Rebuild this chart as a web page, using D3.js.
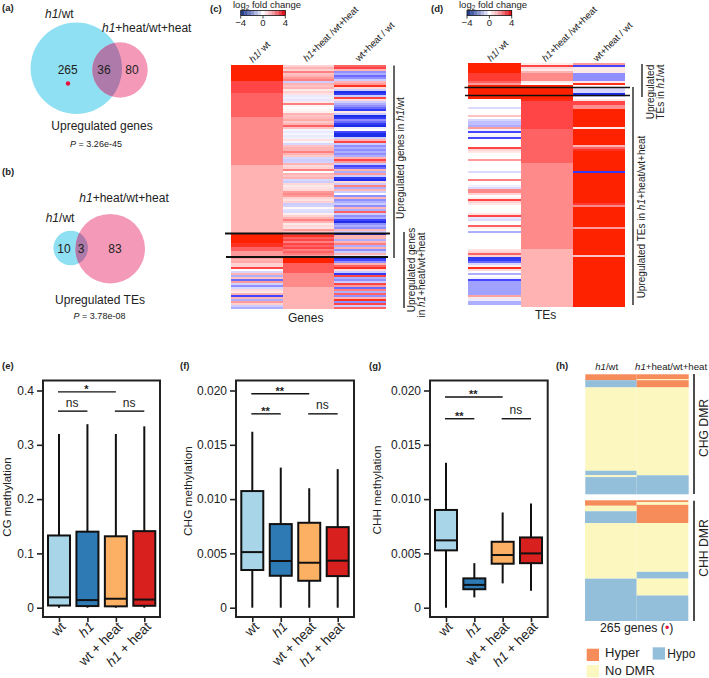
<!DOCTYPE html>
<html><head><meta charset="utf-8">
<script src="https://cdn.jsdelivr.net/npm/d3@7"></script>
<style>html,body{margin:0;padding:0;background:#fff}svg{display:block}text{font-family:"Liberation Sans",Arial,sans-serif;fill:#222}</style>
</head><body><svg id="c" width="709" height="678"><defs><filter id="soft" x="-2%" y="-2%" width="104%" height="104%"><feGaussianBlur stdDeviation="0.6"/></filter></defs></svg>
<script>
// ---------- data ----------
const groups=["wt","*h1*","wt + heat","*h1* + heat"];
const boxColors=["#a8d5e8","#2d7ab5","#fbb063","#d8201f"];
// [low,q1,median,q3,high]
const cgBoxes=[[0,.004,.019,.133,.32],[0,.003,.014,.14,.338],[0,.0025,.0165,.1315,.32],[0,.0035,.015,.141,.334]];
const chgBoxes=[[0,.00347,.00512,.01074,.0162],[0,.00294,.0043,.0077,.0129],[0,.00248,.00414,.00782,.011],[0,.00291,.00433,.00742,.01276]];
const chhBoxes=[[0,.00528,.0062,.009,.01334],[.00095,.0017,.0021,.0027,.0041],[.00224,.00405,.00485,.00607,.00877],[.00156,.0041,.005,.00647,.0096]];
const cgTicks=[0,.1,.2,.3,.4], methTicks=[0,.005,.01,.015,.02];
// [from group,to group,height,label]
const cgBrackets=[[0,2,.3975,"*"],[0,1,.362,"ns"],[2,3,.362,"ns"]];
const chgBrackets=[[0,2,.0197,"**"],[0,1,.01785,"**"],[2,3,.01785,"ns"]];
const chhBrackets=[[0,2,.0194,"**"],[0,1,.0174,"**"],[2,3,.0174,"ns"]];

// heatmap columns, one log2 fold change per row; runs are [value,count]
const genesH1Runs=[[4,8],[3,6],[2.5,12],[1.8,24],[1,34],[4,5],[3.5,2],[2.5,2],[1.5,3]];
const genesH1Tail=[1.5,1,1.2,.6,.6,3,0,-.8,1,-1.5,.8,-2.5,1.5,-.9,-2,-.8,.5,.3,1,-3,1,-1.5,1.5,.6,-1,-1.5];
const genesHeat=[.6,1,.6,2,.8,1,1.5,2,-1,1,.8,1,.3,.6,.4,-.4,-.3,-.5,.3,2,.1,0,.1,.2,1,.8,.9,1.2,.7,1,2.5,.8,-.2,-.4,-.2,-.4,-.3,.4,-.2,-.8,.8,1,1,2,1,.7,-.8,-1,-.9,1,.5,.6,2,0,1,.8,1,-.8,-1,.5,.3,.4,.5,1.5,1.8,1.5,.6,.4,.6,-1,-.9,.1,-.6,-.7,.2,.6,1,2,1,.3,.5,.4,1.5,.8,2.5,3.5,2.5,3,2,3,2.5,3,2,2.5,2,1.5];
const genesHeatRuns=[[4,3],[2.6,5],[1.8,7],[1,11]];
const genesWt=[2.5,3,1,-2,-1.5,-2.5,-2,-1,1,1.5,3.5,.5,-1,-4,-3.5,-1,3,.5,-1,-1.5,-2,-2.5,-3.5,.3,-1,-4,-3.5,-2,-2.5,-3.5,-4,-.3,0,-3,-4,-4,-1,1,3,-1,-2,-1.5,-2,-1.5,-2,-1.5,1,3,1.5,-1,-3,-2.5,1,-1.5,1.5,-1,-3.5,-4,.5,-1,2,-1.5,1,-1,0,-2,1,-2,-1.5,-1,-2,1,-1.5,2.5,-1,-2,-1.5,-3,-4,-2,-1.5,-2,1,-1,-4,1,1,-1.5,1,2,-1.5,1,-2,-1,1,-.5,-4,-3,-2,1,2.5,3.5,.5,-1,-3.5,3,-1.5,-2,-1,3,1.5,-2.5,2,-1.5,2.5,-2,1,3.5,-2,3,-1,2.5];

const tesH1Runs=[[4,5],[3.3,4],[2.5,1],[1.5,1],[4,7]];
const tesH1Tail=[0,0,0,0,-.7,0,0,0,.8,0,-.8,-1.2,-1.2,-1.5,1.5,-.3,-3,.1,-.3,-3,0,0,0,0,3,.6,.3,0,0,0,1.5,0,0,0,0,0,-.7,0,0,0,2,0,0,-.3,-.7,1.8,1.8,.6,0,.2,3,.6,.3,0,0,0,0,.4,3,-.5,-.7,0,0,2.5,.2,0,-1.5,0,0,0,0,0,0,0,0,.4,.6,2.5,.6,-3.5,-3.5,-2.5,-.8,.2,3.5,.5,0,-1.5,0,-.3,-3,-1.7,-1.7,-1.7,-1.7,-1.7,-1.7,-1.7,1.3,.3,-.4,-1.5,-1.5,0];
const tesHeatRuns=[[.3,1],[3,1],[.5,1],[.3,1],[1,1],[1.8,4],[.3,1],[0,1],[4,7],[3.7,1],[3,14],[2.5,17],[1.8,43],[1,29]];
const tesWtRuns=[[1.5,1],[-3,1],[.3,3],[-2,4],[.3,1],[3.5,1],[0,1],[-.8,3],[-4,1],[-.8,1],[0,1],[.3,1],[3,2],[1.7,2],[4,9],[.3,1],[4,8],[1,1],[2.5,1],[3.5,1],[4,10],[-3.5,1],[4,15],[3.3,1],[1.8,1],[4,10],[1.5,1],[4,13],[.8,1],[4,25]];

const genesLabels=["*h1*/ wt","*h1*+heat /wt+heat","wt+heat / wt"];
const tesLabels=["*h1*/ wt","*h1*+heat /wt+heat","wt+heat / wt"];
const legendTicks=[-4,0,4];
const legendSteps=[-4,-3.3,-2.6,-2,-1.3,-.7,0,.7,1.3,2,2.6,3.3,4];

// DMR tracks: counts of the 265 genes in each state, top to bottom
const chgH1=[["Hyper",13],["Hypo",16],["No DMR",184],["Hypo",10],["No DMR",4],["Hypo",38]];
const chgHeat=[["Hyper",11],["No DMR",2],["Hyper",16],["No DMR",194],["Hypo",42]];
const chhH1=[["Hyper",12],["No DMR",12],["Hypo",26],["No DMR",122],["Hypo",93]];
const chhHeat=[["Hyper",4],["No DMR",6],["Hyper",40],["No DMR",107],["Hypo",15],["No DMR",37],["Hypo",56]];
const dmrStates=["Hyper","Hypo","No DMR"];
const dmrColors=["#f58c5a","#93bfdb","#fbf7bf"];

// ---------- helpers ----------
const svg=d3.select("#c");
const expand=r=>r.flatMap(([v,n])=>d3.range(n).map(()=>v));
function rich(sel,s){ // *italic* segments
  s.split("*").forEach((p,i)=>{ if(p) sel.append("tspan").attr("font-style",i%2?"italic":null).text(p); });
  return sel;
}
function label(x,y,s,size,anchor,rot,extra){
  const t=svg.append("text").attr("font-size",size).attr("text-anchor",anchor||"start")
    .attr("transform",`translate(${x},${y})`+(rot?` rotate(${rot})`:""));
  if(extra) t.attr("font-weight",extra);
  return rich(t,s);
}
function line(x1,y1,x2,y2,w){svg.append("line").attr("x1",x1).attr("y1",y1).attr("x2",x2).attr("y2",y2).attr("stroke","#111").attr("stroke-width",w||2);}

// panel tags
[["(a)",2,11],["(b)",2,175],["(c)",210,12],["(d)",431,12],["(e)",2,369],["(f)",180,369],["(g)",369,369],["(h)",556,369]]
 .forEach(d=>label(d[1],d[2],d[0],9.5,"start",0,"bold"));

// ---------- Venn ----------
function venn(id,a,b){
  const g=svg.append("g");
  const cid="clip"+id;
  svg.append("clipPath").attr("id",cid).append("circle").attr("cx",a.x).attr("cy",a.y).attr("r",a.r);
  g.append("circle").attr("cx",a.x).attr("cy",a.y).attr("r",a.r).attr("fill","#8fe0f2");
  g.append("circle").attr("cx",b.x).attr("cy",b.y).attr("r",b.r).attr("fill","#f49ab8");
  g.append("circle").attr("cx",b.x).attr("cy",b.y).attr("r",b.r).attr("fill","#ae7aa9").attr("clip-path",`url(#${cid})`);
}
venn("a",{x:76.3,y:68.3,r:45.7},{x:120,y:70,r:27.7});
venn("b",{x:70.7,y:248,r:17.3},{x:110.2,y:248.7,r:34.8});
label(45,18,"*h1*/wt",12);
label(102,32,"*h1*+heat/wt+heat",12);
label(67.7,74,"265",12,"middle");label(104,74,"36",12,"middle");label(132,74,"80",12,"middle");
svg.append("circle").attr("cx",68).attr("cy",83.5).attr("r",2.2).attr("fill","#e8123c");
label(102,130,"Upregulated genes",12,"middle");
label(96,147,"*P* = 3.26e-45",9,"middle");
label(79.3,202,"*h1*+heat/wt+heat",12);
label(45.7,221.7,"*h1*/wt",12);
label(64,253,"10",12,"middle");label(81,253,"3",12,"middle");label(115,253,"83",12,"middle");
label(100,304,"Upregulated TEs",12,"middle");
label(99.5,319,"*P* = 3.78e-08",9,"middle");

// ---------- heatmaps ----------
const heatColor=d3.scaleLinear().domain([-4,-3,-2,-1,0,1,2,3,4])
  .range(["#1f2fe8","#4444ff","#8f8fff","#ccccff","#ffffff","#ffb3b3","#ff8080","#ff4444","#ff2200"]).clamp(true);
const legendColor=d3.scaleLinear().domain([-4,-2,0,2,4]).range(["#24408f","#8b96d0","#ffffff","#f59aa0","#e5141f"]);

function heatmap(x0,x1,y0,y1,cols){
  const n=cols[0].length;
  const xs=d3.scaleBand().domain(d3.range(cols.length)).range([x0,x1]);
  const ys=d3.scaleBand().domain(d3.range(n)).range([y0,y1]);
  const g=svg.append("g").attr("filter","url(#soft)");
  cols.forEach((c,i)=>{
    g.append("g").attr("shape-rendering","crispEdges").selectAll("rect").data(c).join("rect")
     .attr("x",xs(i)).attr("width",xs.bandwidth()+.3)
     .attr("y",(d,j)=>ys(j)).attr("height",ys.bandwidth()+.3)
     .attr("fill",d=>heatColor(d));
  });
}
function colorKey(x0,x1,y0,y1,titleX){
  const sc=d3.scaleLinear().domain([-4,4]).range([x0,x1]);
  const g=svg.append("g");
  const w=(x1-x0)/legendSteps.length;
  legendSteps.forEach((v,i)=>g.append("rect").attr("x",x0+i*w).attr("y",y0).attr("width",w+.3).attr("height",y1-y0).attr("fill",legendColor(v)));
  g.append("rect").attr("x",x0).attr("y",y0).attr("width",x1-x0).attr("height",y1-y0).attr("fill","none").attr("stroke","#111").attr("stroke-width",.8);
  legendTicks.forEach(t=>{
    line(sc(t),y1,sc(t),y1+3,.8);
    label(sc(t),y1+10.5,t<0?"\u2212"+(-t):String(t),9.5,"middle");
  });
  const tt=label(titleX,8,"log",9.5);
  tt.append("tspan").attr("font-size",6.5).attr("dy",2).text("2");
  tt.append("tspan").attr("dy",-2).text(" fold change");
}
heatmap(231,386,65,309,[expand(genesH1Runs).concat(genesH1Tail),genesHeat.concat(expand(genesHeatRuns)),genesWt]);
colorKey(240.7,285.3,10.5,15.5,233);
line(225,233.5,390,233.5,1.8);line(226,257,388,257,1.8);
[[253,63,0],[307,62,1],[359,62,2]].forEach(d=>label(d[0],d[1],genesLabels[d[2]],9.5,"start",-45));
label(305.7,322,"Genes",12,"middle");
line(394,65.5,394,258,1.3);line(404,232,404,308,1.3);
label(404,158,"Upregulated genes in *h1*/wt",10,"middle",-90);
label(414.5,270,"Upregulated genes",10,"middle",-90);
label(424.5,275,"in *h1*+heat/wt+heat",10,"middle",-90);

heatmap(468.3,625,63,307,[expand(tesH1Runs).concat(tesH1Tail),expand(tesHeatRuns),expand(tesWtRuns)]);
colorKey(467,511.7,10.5,15.5,459);
line(464.5,87.5,630,87.5,1.3);line(465,95.5,630,95.5,1.3);
[[491,62,0],[545.7,62,1],[597,62,2]].forEach(d=>label(d[0],d[1],tesLabels[d[2]],9.5,"start",-45));
label(545.7,319,"TEs",12,"middle");
line(642,64,642,97,1.3);line(633,87,633,305,1.3);
label(654,92,"Upregulated",10,"middle",-90);
label(664,92,"TEs in *h1*/wt",10,"middle",-90);
label(645,217,"Upregulated TEs in *h1*+heat/wt+heat",10,"middle",-90);

// ---------- boxplots ----------
function boxplot(o){
  const y=d3.scaleLinear().domain([0,o.max]).range([607.7,390.5]);
  const x=d3.scalePoint().domain(d3.range(4)).range(o.centers);
  const g=svg.append("g");
  g.append("rect").attr("x",o.left).attr("y",380.5).attr("width",o.right-o.left).attr("height",236.5)
    .attr("fill","none").attr("stroke","#222").attr("stroke-width",2);
  const ya=d3.axisLeft(y).tickValues(o.ticks).tickSize(6).tickPadding(3).tickFormat(o.fmt);
  const yg=g.append("g").attr("transform",`translate(${o.left},0)`).call(ya);
  yg.select(".domain").remove();
  yg.selectAll(".tick line").attr("stroke","#222").attr("stroke-width",1.6);
  yg.selectAll(".tick text").attr("font-size",12).style("font-family",'"Liberation Sans",Arial,sans-serif').attr("fill","#222");
  const xa=d3.axisBottom(x).tickSize(5).tickFormat("");
  const xg=g.append("g").attr("transform","translate(0,617)").call(xa);
  xg.select(".domain").remove();
  xg.selectAll(".tick line").attr("stroke","#222").attr("stroke-width",1.6);
  groups.forEach((s,i)=>label(x(i)+7.5,627.5,s,13.5,"end",-45));
  label(o.labelX,o.labelY,o.title,o.labelSize||11.8,"middle",-90);
  const bw=22;
  o.data.forEach((b,i)=>{
    const c=x(i);
    g.append("line").attr("x1",c).attr("x2",c).attr("y1",y(b[0])).attr("y2",y(b[4])).attr("stroke","#111").attr("stroke-width",2);
    g.append("rect").attr("x",c-bw/2).attr("width",bw).attr("y",y(b[3])).attr("height",y(b[1])-y(b[3]))
      .attr("fill",boxColors[i]).attr("stroke","#111").attr("stroke-width",2);
    g.append("line").attr("x1",c-bw/2).attr("x2",c+bw/2).attr("y1",y(b[2])).attr("y2",y(b[2])).attr("stroke","#111").attr("stroke-width",2);
  });
  o.brackets.forEach(b=>{
    const yy=y(b[2]);
    line(x(b[0])-1,yy,x(b[1]),yy,1.4);
    const mid=(x(b[0])+x(b[1]))/2-1;
    const t=svg.append("text").attr("text-anchor","middle").attr("x",mid).text(b[3]);
    if(b[3]==="ns") t.attr("y",yy-4.5).attr("font-size",12);
    else t.attr("y",yy+1).attr("font-size",11).attr("font-weight","bold");
  });
}
boxplot({left:43,right:160,centers:[59,144.3],max:.4,ticks:cgTicks,fmt:d=>d===0?"0":d3.format(".1f")(d),data:cgBoxes,brackets:cgBrackets,title:"CG methylation",labelX:10.5,labelY:497,labelSize:11.5});
boxplot({left:236,right:354,centers:[252.3,337.7],max:.02,ticks:methTicks,fmt:d=>d===0?"0":d3.format(".3f")(d),data:chgBoxes,brackets:chgBrackets,title:"CHG methylation",labelX:192,labelY:491});
boxplot({left:430,right:547.7,centers:[446,531],max:.02,ticks:methTicks,fmt:d=>d===0?"0":d3.format(".3f")(d),data:chhBoxes,brackets:chhBrackets,title:"CHH methylation",labelX:381,labelY:490});

// ---------- DMR tracks ----------
const dmrColor=d3.scaleOrdinal().domain(dmrStates).range(dmrColors);
function track(col,x0,x1,y0,y1){
  const y=d3.scaleLinear().domain([0,265]).range([y0,y1]);
  let acc=0;
  col.forEach(([s,n])=>{
    svg.append("rect").attr("x",x0).attr("width",x1-x0).attr("y",y(acc)).attr("height",y(acc+n)-y(acc)).attr("fill",dmrColor(s));
    acc+=n;
  });
}
track(chgH1,585.3,636.7,374.3,494.3);track(chgHeat,636.7,688.7,374.3,494.3);
track(chhH1,585,636.7,500.3,621);track(chhHeat,636.7,688.3,500.3,621);
label(606.7,370,"*h1*/wt",9.5,"middle");
label(635,370,"*h1*+heat/wt+heat",9.7);
line(694,374,694,494,1.5);line(694,500.7,694,621,1.5);
label(707.5,428,"CHG DMR",12.2,"middle",-90);
label(707.5,548,"CHH DMR",12.2,"middle",-90);
const ct=label(636.7,631.7,"265 genes (",12.3,"middle");
ct.append("tspan").attr("fill","#e8123c").text("\u2022");
ct.append("tspan").text(")");
[[586.7,648.7,0],[652.7,647.3,1],[586.7,665,2]].forEach(d=>{
  svg.append("rect").attr("x",d[0]).attr("y",d[1]).attr("width",12.3).attr("height",12.3).attr("fill",dmrColors[d[2]]);
});
label(605,656.7,dmrStates[0],13);label(667.3,658,dmrStates[1],12);label(605,675,dmrStates[2],13);
</script></body></html>
